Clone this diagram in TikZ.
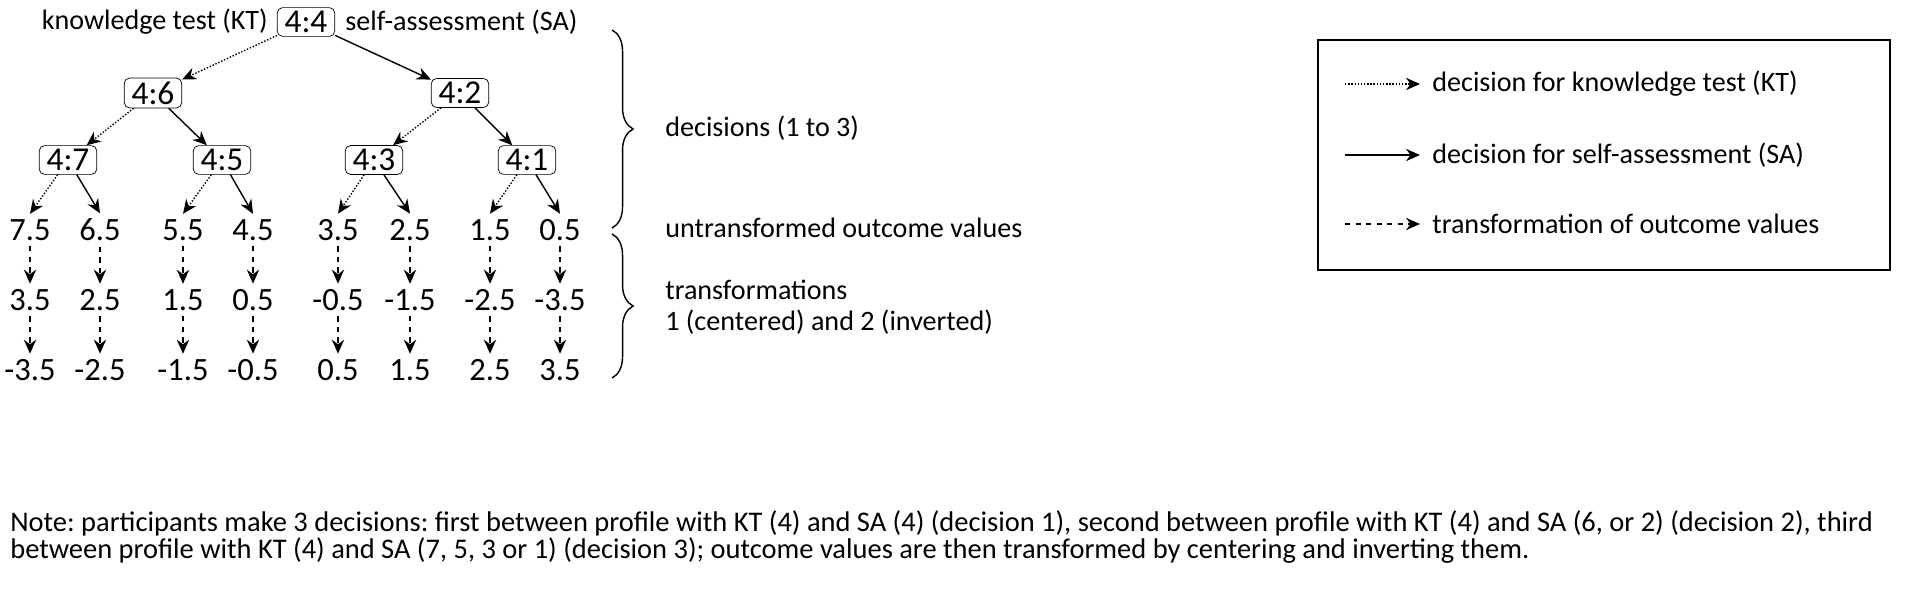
\documentclass[tikz,border=0pt]{standalone}
\usepackage{fontspec}
\setmainfont{Carlito}
\usetikzlibrary{arrows.meta,decorations.pathreplacing}
\frenchspacing
\begin{document}
\begin{tikzpicture}[x=0.02cm,y=-0.02cm,
  bx/.style={draw,rounded corners=3pt,font=\fontsize{19}{22}\selectfont,inner sep=2pt,minimum width=1.15cm},
  lf/.style={font=\fontsize{18.5}{22}\selectfont,inner sep=3pt},
  tx/.style={font=\fontsize{16}{19}\selectfont,anchor=west,inner sep=0pt},
  kt/.style={densely dotted,thick,-{Stealth[length=8pt,width=7pt]}},
  sa/.style={thick,-{Stealth[length=8pt,width=7pt]}},
  tr/.style={dashed,thick,-{Stealth[length=8pt,width=7pt]}},
  br/.style={thick,decorate,decoration={brace,amplitude=12pt}}]
\useasboundingbox (0,0) rectangle (1907,594);
\node[bx] (r) at (306,22) {4:4};
\node[tx,anchor=east] (ktl) at (268,22) {knowledge test (KT)};
\node[tx] (sal) at (345,22) {self-assessment (SA)};
\node[bx] (a) at (153,93) {4:6};
\node[bx] (b) at (460,93) {4:2};
\node[bx] (c1) at (68,160) {4:7};
\node[bx] (c2) at (222,160) {4:5};
\node[bx] (c3) at (374,160) {4:3};
\node[bx] (c4) at (527,160) {4:1};
\draw[kt] (r) -- (a); \draw[sa] (r) -- (b);
\draw[kt] (a) -- (c1); \draw[sa] (a) -- (c2);
\draw[kt] (b) -- (c3); \draw[sa] (b) -- (c4);
\foreach \i/\x/\p/\q/\s in {1/30/7.5/3.5/-3.5,2/100/6.5/2.5/-2.5,3/183/5.5/1.5/-1.5,4/253/4.5/0.5/-0.5,5/338/3.5/-0.5/0.5,6/410/2.5/-1.5/1.5,7/490/1.5/-2.5/2.5,8/560/0.5/-3.5/3.5}{
  \node[lf] (u\i) at (\x,230) {\p};
  \node[lf] (m\i) at (\x,300) {\q};
  \node[lf] (d\i) at (\x,370) {\s};
  \draw[tr] (u\i.south) -- (m\i.north);
  \draw[tr] (m\i.south) -- (d\i.north);
}
\foreach \c/\l/\r in {c1/1/2,c2/3/4,c3/5/6,c4/7/8}{
  \draw[kt] (\c) -- (u\l.north); \draw[sa] (\c) -- (u\r.north);}
\draw[br] (612,30) -- (612,228);
\draw[br] (612,234) -- (612,378);
\node[tx] (dec) at (665,128) {decisions (1 to 3)};
\node[tx] (unt) at (665,228) {untransformed outcome values};
\node[tx] (tr1) at (665,290) {transformations};
\node[tx] (tr2) at (665,322) {1 (centered) and 2 (inverted)};
\draw[thick] (1318,40) rectangle (1890,270);
\coordinate (l1a) at (1345,84); \coordinate (l1b) at (1420,84);
\coordinate (l2a) at (1345,155); \coordinate (l2b) at (1420,155);
\coordinate (l3a) at (1345,224); \coordinate (l3b) at (1420,224);
\draw[kt] (l1a) -- (l1b); \draw[sa] (l2a) -- (l2b); \draw[tr] (l3a) -- (l3b);
\node[tx] (e1) at (1432,84) {decision for knowledge test (KT)};
\node[tx] (e2) at (1432,155) {decision for self-assessment (SA)};
\node[tx] (e3) at (1432,224) {transformation of outcome values};
\node[anchor=north west,inner sep=0pt,font=\fontsize{16.2}{15.5}\selectfont,align=left] (note) at (10,510) {Note: participants make 3 decisions: first between profile with KT (4) and SA (4) (decision 1), second between profile with KT (4) and SA (6, or 2) (decision 2), third\\between profile with KT (4) and SA (7, 5, 3 or 1) (decision 3); outcome values are then transformed by centering and inverting them.};
\end{tikzpicture}
\end{document}
